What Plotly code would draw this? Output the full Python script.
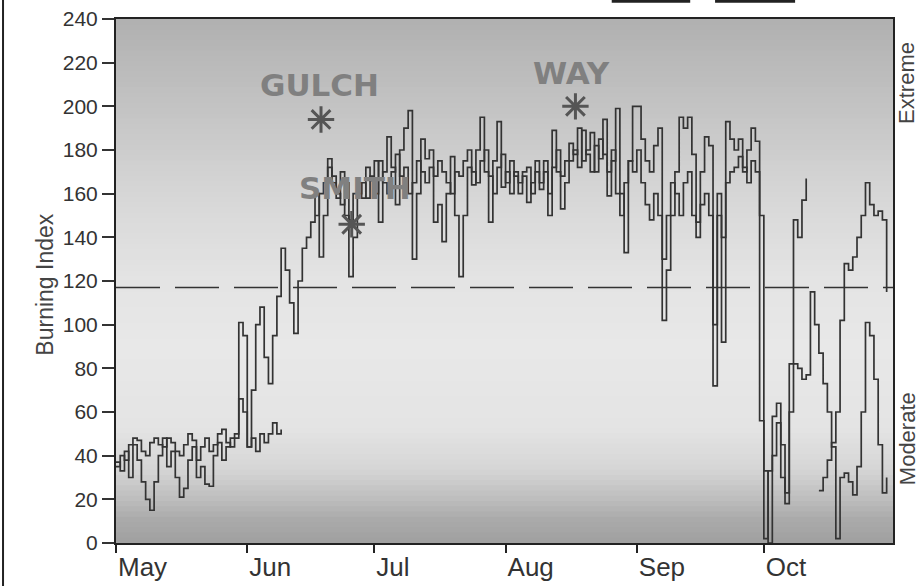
import pandas as pd
import plotly.graph_objects as go

# ---------------- data ----------------
START = "2002-05-01"
N_DAYS = 184  # May 1 .. Oct 31

# Series A (daily burning index)
A_MAY = [37, 33, 42, 30, 45, 38, 28, 20, 15, 28, 40, 48, 35, 42, 30, 21, 25, 38, 44, 30,
         35, 27, 26, 40, 46, 38, 44, 48, 50, 101, 95]
A_JUN = [44, 70, 100, 108, 85, 73, 95, 113, 135, 125, 110, 96, 120, 135, 140, 147, 160, 131, 150, 172,
         165, 158, 170, 150, 122, 140, 160, 165, 158, 168]
A_JUL = [175, 147, 170, 186, 172, 155, 180, 190, 198, 130, 160, 185, 176, 180, 147, 155, 138, 160, 177, 150,
         122, 150, 172, 164, 180, 195, 170, 147, 175, 193, 163]
A_AUG = [170, 160, 170, 165, 168, 156, 165, 170, 162, 175, 150, 189, 170, 153, 165, 175, 180, 172, 189, 178,
         170, 182, 176, 194, 159, 175, 199, 160, 133, 175, 200]
A_SEP = [200, 185, 175, 170, 182, 190, 102, 125, 150, 170, 195, 190, 195, 178, 147, 170, 186, 182, 72, 150,
         92, 193, 185, 180, 185, 170, 180, 190, 184, 56]
A_OCT = [2, 33, 58, 64, 45, 23, 82, 148, 140, 157, 167, None, None, 24, 30, 38, 46, 60, 102, 128,
         125, 131, 140, 150, 165, 155, 150, 152, 148, 115, None]

# Series B (daily burning index, with gaps)
B_MAY = [35, 40, 38, 45, 48, 47, 42, 40, 46, 48, 45, 44, 48, 46, 42, 40, 45, 50, 47, 38,
         44, 48, 42, 45, 50, 52, 46, 44, 48, 66, 60]
B_JUN = [44, 48, 42, 50, 46, 50, 55, 50, 52, None, None, None, None, None, None, None, 150, 160, 165, 176,
         168, 160, 155, 165, 148, 160, 165, 158, 172, 166]
B_JUL = [160, 175, 165, 160, 170, 178, 168, 172, 160, 165, 175, 170, 165, 172, 168, 175, 170, 165, 160, 170,
         168, 175, 180, 170, 165, 175, 180, 168, 160, 172, 178]
B_AUG = [165, 175, 168, 160, 170, 172, 160, 175, 165, 170, 160, 172, 180, 168, 175, 183, 178, 190, 175, 180,
         188, 170, 185, 178, 170, 180, 160, 150, 165, 175, 170]
B_SEP = [180, 165, 155, 148, 160, 150, 130, 150, 165, 160, 150, 165, 170, 150, 140, 155, 160, 150, 100, 160,
         140, 165, 170, 172, 177, 172, 165, 175, 170, 150]
B_OCT = [33, 0, 40, 55, 30, 18, 60, 82, 80, 75, 77, 115, 100, 87, 73, 60, 44, 2, 30, 32,
         28, 22, 35, 60, 101, 95, 75, 45, 23, 30, None]

SERIES_A = A_MAY + A_JUN + A_JUL + A_AUG + A_SEP + A_OCT
SERIES_B = B_MAY + B_JUN + B_JUL + B_AUG + B_SEP + B_OCT

THRESHOLD = 117

FIRE_NAMES = ["GULCH", "SMITH", "WAY"]
FIRE_DATES = ["2002-06-18 10:00", "2002-06-25 16:00", "2002-08-17 12:00"]
FIRE_INDEX = [194, 146, 200]

Y_TICKS = list(range(0, 241, 20))

dates = pd.date_range(START, periods=N_DAYS, freq="D")

# ---------------- figure ----------------
FONT = "Liberation Sans, Arial, sans-serif"
LINE_COL = "#333333"

fig = go.Figure()

for name, vals in (("Series A", SERIES_A), ("Series B", SERIES_B)):
    fig.add_trace(go.Scatter(
        x=dates, y=vals, mode="lines", name=name,
        line=dict(color=LINE_COL, width=1.7, shape="hv"),
        connectgaps=False, showlegend=False,
    ))

fig.add_trace(go.Scatter(
    x=FIRE_DATES, y=FIRE_INDEX, mode="markers", showlegend=False,
    marker=dict(symbol="asterisk-open", size=22, color="#555555",
                line=dict(color="#555555", width=3)),
))

# gradient background
def gray_at(f):
    stops = [(0.0, 160), (0.045, 170), (0.085, 190), (0.14, 213), (0.22, 228),
             (0.37, 232), (0.5, 228), (0.65, 216), (0.81, 198), (1.0, 176)]
    for (f0, g0), (f1, g1) in zip(stops[:-1], stops[1:]):
        if f0 <= f <= f1:
            return g0 + (g1 - g0) * (f - f0) / (f1 - f0)
    return stops[-1][1]

shapes = []
NB = 100
for i in range(NB):
    f0, f1 = i / NB, (i + 1) / NB
    g = int(round(gray_at((f0 + f1) / 2)))
    shapes.append(dict(type="rect", xref="x domain", yref="y domain",
                       x0=0, x1=1, y0=f0, y1=f1 + 0.002, layer="below",
                       line=dict(width=0), fillcolor=f"rgb({g},{g},{g})"))

# dashed reference line
shapes.append(dict(type="line", xref="x domain", yref="y", x0=0, x1=1,
                   y0=THRESHOLD, y1=THRESHOLD,
                   line=dict(color=LINE_COL, width=1.6, dash="44px,15px")))

# left page frame line
shapes.append(dict(type="line", xref="paper", yref="paper", x0=-0.1454, x1=-0.1454,
                   y0=-0.09, y1=1.05, line=dict(color="#222222", width=2)))
# cut-off legend samples at top
shapes.append(dict(type="line", xref="paper", yref="paper", x0=0.638, x1=0.739,
                   y0=1.034, y1=1.034, line=dict(color="#222222", width=3)))
shapes.append(dict(type="line", xref="paper", yref="paper", x0=0.771, x1=0.874,
                   y0=1.034, y1=1.034, line=dict(color="#222222", width=3)))

annotations = []
shifts = [(-2, 34), (3, 36), (-4, 33)]
for nm, dt, v, (dx, dy) in zip(FIRE_NAMES, FIRE_DATES, FIRE_INDEX, shifts):
    annotations.append(dict(x=dt, y=v, xref="x", yref="y", text=nm, showarrow=False,
                            xshift=dx, yshift=dy, xanchor="center", yanchor="middle",
                            font=dict(family="DejaVu Sans, sans-serif", size=31,
                                      color="#808080", weight="bold")))

annotations.append(dict(x=-0.0914, y=0.493, xref="paper", yref="paper", text="Burning Index",
                        textangle=-90, showarrow=False, xanchor="center", yanchor="middle",
                        font=dict(family=FONT, size=23, color="#444444")))
annotations.append(dict(x=1.018, y=0.878, xref="paper", yref="paper", text="Extreme",
                        textangle=-90, showarrow=False, xanchor="center", yanchor="middle",
                        font=dict(family=FONT, size=22, color="#444444")))
annotations.append(dict(x=1.018, y=0.2, xref="paper", yref="paper", text="Moderate",
                        textangle=-90, showarrow=False, xanchor="center", yanchor="middle",
                        font=dict(family=FONT, size=22, color="#444444")))

fig.update_layout(
    width=923, height=586,
    margin=dict(l=116, r=30, t=19, b=43, autoexpand=False),
    paper_bgcolor="white", plot_bgcolor="#e0e0e0",
    font=dict(family=FONT, color="#333333"),
    shapes=shapes, annotations=annotations,
    showlegend=False,
)

fig.update_xaxes(
    type="date", range=["2002-05-01", "2002-10-31 12:00"],
    dtick="M1", tick0="2002-05-01", tickformat="%b",
    ticks="outside", ticklen=8, tickwidth=2, tickcolor="#222222",
    ticklabelposition="outside right", ticklabelstandoff=0,
    tickfont=dict(family=FONT, size=26, color="#333333"),
    showgrid=False, zeroline=False, automargin=False,
    showline=True, mirror=True, linecolor="#222222", linewidth=2,
)
fig.update_yaxes(
    range=[0, 240], tickvals=Y_TICKS,
    ticks="outside", ticklen=12, tickwidth=1.5, tickcolor="#333333",
    tickfont=dict(family=FONT, size=21, color="#333333"),
    showgrid=False, zeroline=False, automargin=False,
    showline=True, mirror=True, linecolor="#222222", linewidth=2,
)

fig.write_html(
    "out.html",
    config={"displayModeBar": False},
    post_script="document.body.style.margin='0';document.body.style.overflow='hidden';",
)
